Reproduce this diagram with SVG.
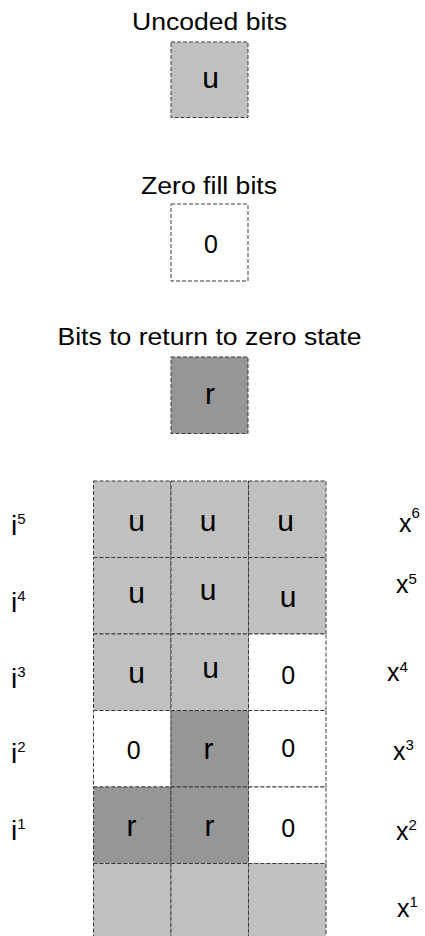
<svg xmlns="http://www.w3.org/2000/svg" width="425" height="936" viewBox="0 0 425 936">
<style>
  .cell { stroke: #3a3a3a; stroke-width: 1; stroke-dasharray: 4 2; }
  .lg { fill: #c0c0c0; }
  .dg { fill: #969696; }
  .wh { fill: #ffffff; }
  text { font-family: "Liberation Sans", Arial, sans-serif; fill: #000; }
  .ttl { font-size: 23px; text-anchor: middle; }
  .ch { font-size: 30px; text-anchor: middle; }
  .dz { font-size: 25px; text-anchor: middle; }
  .lbl { font-size: 28px; }
  .xl { font-size: 25px; }
  .sup { font-size: 15px; }
</style>
<rect width="425" height="936" fill="#ffffff"/>

<g id="legend-uncoded">
  <text class="ttl" x="209.5" y="30" textLength="155" lengthAdjust="spacingAndGlyphs">Uncoded bits</text>
  <rect class="cell lg" x="171" y="42" width="77" height="75.5"/>
  <text class="ch" x="210.5" y="88">u</text>
</g>
<g id="legend-zero">
  <text class="ttl" x="209" y="194" textLength="136" lengthAdjust="spacingAndGlyphs">Zero fill bits</text>
  <rect class="cell wh" x="171" y="204" width="77" height="77"/>
  <text class="dz" x="211" y="253">0</text>
</g>
<g id="legend-return">
  <text class="ttl" x="209.5" y="345" textLength="304" lengthAdjust="spacingAndGlyphs">Bits to return to zero state</text>
  <rect class="cell dg" x="171" y="357" width="77" height="76.5"/>
  <text class="ch" x="210" y="404">r</text>
</g>

<g id="connectors"/>

<g id="grid">
  <g id="cell-r1c1"><rect class="cell lg" x="93.5" y="481" width="77.5" height="76.5"/><text class="ch" x="136.5" y="531">u</text></g>
  <g id="cell-r1c2"><rect class="cell lg" x="171" y="481" width="77.5" height="76.5"/><text class="ch" x="208" y="531">u</text></g>
  <g id="cell-r1c3"><rect class="cell lg" x="248.5" y="481" width="77.5" height="76.5"/><text class="ch" x="285.5" y="531">u</text></g>

  <g id="cell-r2c1"><rect class="cell lg" x="93.5" y="557.5" width="77.5" height="76.5"/><text class="ch" x="136.5" y="603">u</text></g>
  <g id="cell-r2c2"><rect class="cell lg" x="171" y="557.5" width="77.5" height="76.5"/><text class="ch" x="208" y="600">u</text></g>
  <g id="cell-r2c3"><rect class="cell lg" x="248.5" y="557.5" width="77.5" height="76.5"/><text class="ch" x="288" y="607">u</text></g>

  <g id="cell-r3c1"><rect class="cell lg" x="93.5" y="634" width="77.5" height="76.5"/><text class="ch" x="136.5" y="683">u</text></g>
  <g id="cell-r3c2"><rect class="cell lg" x="171" y="634" width="77.5" height="76.5"/><text class="ch" x="210.5" y="678">u</text></g>
  <g id="cell-r3c3"><rect class="cell wh" x="248.5" y="634" width="77.5" height="76.5"/><text class="dz" x="288.3" y="684">0</text></g>

  <g id="cell-r4c1"><rect class="cell wh" x="93.5" y="710.5" width="77.5" height="76.5"/><text class="dz" x="133.7" y="759">0</text></g>
  <g id="cell-r4c2"><rect class="cell dg" x="171" y="710.5" width="77.5" height="76.5"/><text class="ch" x="208.5" y="759">r</text></g>
  <g id="cell-r4c3"><rect class="cell wh" x="248.5" y="710.5" width="77.5" height="76.5"/><text class="dz" x="288.3" y="757">0</text></g>

  <g id="cell-r5c1"><rect class="cell dg" x="93.5" y="787" width="77.5" height="76.5"/><text class="ch" x="131.5" y="836">r</text></g>
  <g id="cell-r5c2"><rect class="cell dg" x="171" y="787" width="77.5" height="76.5"/><text class="ch" x="209.5" y="836">r</text></g>
  <g id="cell-r5c3"><rect class="cell wh" x="248.5" y="787" width="77.5" height="76.5"/><text class="dz" x="288.3" y="837">0</text></g>

  <g id="cell-r6c1"><rect class="cell lg" x="93.5" y="863.5" width="77.5" height="80"/></g>
  <g id="cell-r6c2"><rect class="cell lg" x="171" y="863.5" width="77.5" height="80"/></g>
  <g id="cell-r6c3"><rect class="cell lg" x="248.5" y="863.5" width="77.5" height="80"/></g>
</g>

<g id="input-labels">
  <text class="lbl" x="11" y="535">i<tspan class="sup" dy="-11">5</tspan></text>
  <text class="lbl" x="11" y="612">i<tspan class="sup" dy="-11">4</tspan></text>
  <text class="lbl" x="11" y="688">i<tspan class="sup" dy="-11">3</tspan></text>
  <text class="lbl" x="11" y="763">i<tspan class="sup" dy="-11">2</tspan></text>
  <text class="lbl" x="11" y="840">i<tspan class="sup" dy="-11">1</tspan></text>
</g>

<g id="output-labels">
  <text class="xl" x="399" y="532">x<tspan class="sup" dy="-14">6</tspan></text>
  <text class="xl" x="396" y="593">x<tspan class="sup" dy="-9">5</tspan></text>
  <text class="xl" x="387" y="681">x<tspan class="sup" dy="-9">4</tspan></text>
  <text class="xl" x="393" y="760">x<tspan class="sup" dy="-10">3</tspan></text>
  <text class="xl" x="396" y="840">x<tspan class="sup" dy="-10">2</tspan></text>
  <text class="xl" x="397" y="917">x<tspan class="sup" dy="-10">1</tspan></text>
</g>
</svg>
